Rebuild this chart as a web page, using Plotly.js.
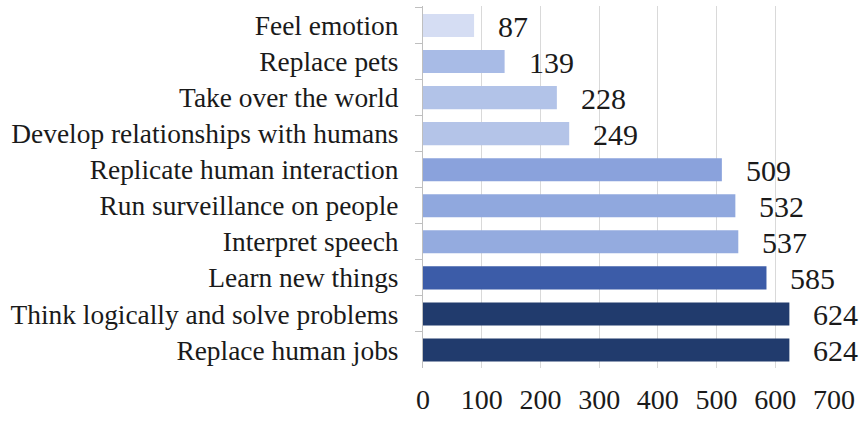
<!DOCTYPE html>
<html>
<head>
<meta charset="utf-8">
<script src="https://cdn.plot.ly/plotly-3.0.1.min.js"></script>
<style>html,body{margin:0;padding:0;background:#fff;}#chart{width:867px;height:421px;}</style>
</head>
<body>
<div id="chart"></div>
<script>
const categories = [
  "Feel emotion",
  "Replace pets",
  "Take over the world",
  "Develop relationships with humans",
  "Replicate human interaction",
  "Run surveillance on people",
  "Interpret speech",
  "Learn new things",
  "Think logically and solve problems",
  "Replace human jobs"
];
const values = [87, 139, 228, 249, 509, 532, 537, 585, 624, 624];
const barColors = ["#d5ddf3", "#a8bbe6", "#b2c3e8", "#b4c4e8", "#8aa2dc", "#90a8de", "#94abdf", "#3c5ca8", "#213b6d", "#213b6d"];
const xTicks = [0, 100, 200, 300, 400, 500, 600, 700];

const font = "Liberation Serif, Times New Roman, serif";

const trace = {
  type: "bar",
  orientation: "h",
  x: values,
  y: categories,
  marker: {color: barColors},
  hoverinfo: "x+y"
};

const annotations = values.map((v, i) => ({
  x: v, y: categories[i], xref: "x", yref: "y",
  text: String(v), showarrow: false, xanchor: "left", yanchor: "middle",
  xshift: 22, yshift: -1,
  font: {family: font, size: 30, color: "#1a1a1a"}
}));

const layout = {
  width: 867, height: 421,
  margin: {l: 423, r: 33, t: 6, b: 53},
  paper_bgcolor: "#fff", plot_bgcolor: "#fff",
  bargap: 0.36,
  showlegend: false,
  font: {family: font, color: "#1a1a1a"},
  xaxis: {
    range: [0, 700], tickvals: xTicks, ticktext: xTicks.map(String),
    showgrid: true, gridcolor: "#d9d9d9", gridwidth: 1,
    zeroline: false, showline: false, ticks: "",
    ticklabelstandoff: 12,
    tickfont: {family: font, size: 28, color: "#1a1a1a"},
    fixedrange: true
  },
  yaxis: {
    type: "category", autorange: "reversed",
    showline: true, linecolor: "#bfbfbf", linewidth: 1,
    ticks: "outside", ticklen: 7, tickcolor: "#bfbfbf", tickson: "boundaries",
    ticklabelstandoff: 18,
    tickfont: {family: font, size: 27.4, color: "#1a1a1a"},
    showgrid: false, zeroline: false, fixedrange: true
  },
  annotations: annotations
};

Plotly.newPlot("chart", [trace], layout, {displayModeBar: false, staticPlot: true});
</script>
</body>
</html>
